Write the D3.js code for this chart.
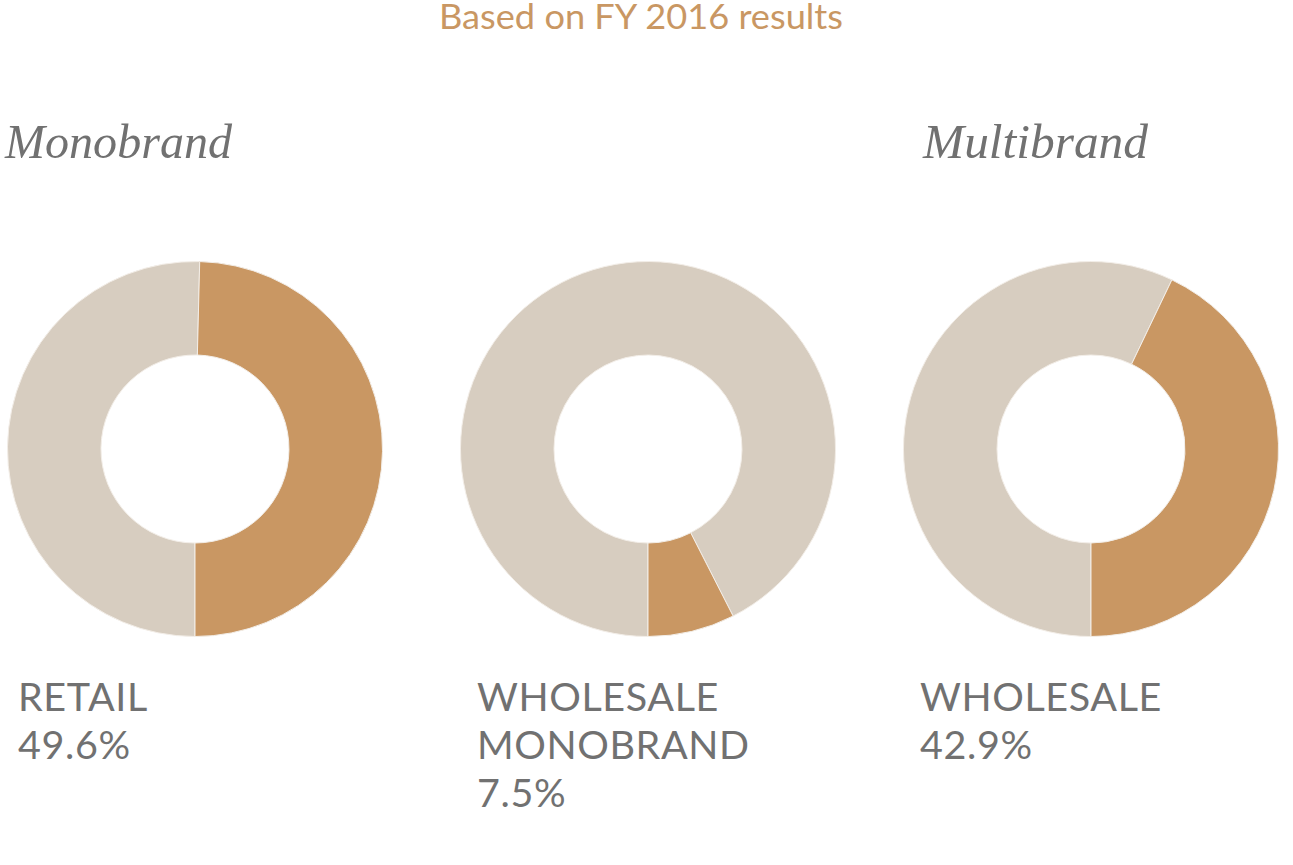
<!DOCTYPE html>
<html>
<head>
<meta charset="utf-8">
<script src="https://cdn.jsdelivr.net/npm/d3@7"></script>
<style>
  html, body { margin: 0; padding: 0; background: #fff; }
  svg { display: block; }
</style>
</head>
<body>
<svg id="chart" width="1293" height="865"></svg>
<script>
const title = "Based on FY 2016 results";
const groupTitles = ["Monobrand", "Multibrand"];
const categories = ["Retail", "Wholesale Monobrand", "Wholesale"];
const labelLines = [["RETAIL"], ["WHOLESALE", "MONOBRAND"], ["WHOLESALE"]];
const values = [49.6, 7.5, 42.9];
const valueLabels = ["49.6%", "7.5%", "42.9%"];

const W = 1293, H = 865;
const svg = d3.select("#chart");
const ORANGE = "#c99763", SAND = "#d7cdc0", GREY = "#717171";

const cx = d3.scaleOrdinal().domain(categories).range([195, 648, 1091]);
const labelX = d3.scaleOrdinal().domain(categories).range([18, 477, 920]);
const cy = 449, rOuter = 187.5, rInner = 94;

svg.append("text")
  .attr("x", 641).attr("y", 29)
  .attr("text-anchor", "middle")
  .attr("font-family", "Lato")
  .attr("font-size", 34)
  .attr("fill", ORANGE)
  .attr("textLength", 404)
  .attr("lengthAdjust", "spacingAndGlyphs")
  .text(title);

const gtPos = [{x: 5, w: 227}, {x: 923, w: 225}];
groupTitles.forEach((t, i) => {
  svg.append("text")
    .attr("x", gtPos[i].x).attr("y", 158)
    .attr("font-family", "Liberation Serif")
    .attr("font-style", "italic")
    .attr("font-size", 48)
    .attr("fill", GREY)
    .attr("textLength", gtPos[i].w)
    .attr("lengthAdjust", "spacingAndGlyphs")
    .text(t);
});

const pie = d3.pie().sort(null).value(d => d.v).startAngle(-Math.PI).endAngle(Math.PI);
const arc = d3.arc().innerRadius(rInner).outerRadius(rOuter);

categories.forEach((c, i) => {
  const g = svg.append("g").attr("transform", `translate(${cx(c)},${cy})`);
  const data = [{k: "rest", v: 100 - values[i]}, {k: "share", v: values[i]}];
  g.selectAll("path").data(pie(data)).join("path")
    .attr("d", arc)
    .attr("fill", d => d.data.k === "share" ? ORANGE : SAND)
    .attr("stroke", "#f3eee8")
    .attr("stroke-width", 1);

  const lines = labelLines[i].concat([valueLabels[i]]);
  const t = svg.append("text")
    .attr("font-family", "Lato")
    .attr("font-size", 39.5)
    .attr("fill", GREY)
    .attr("letter-spacing", 0.6);
  lines.forEach((l, j) => {
    t.append("tspan")
      .attr("x", labelX(c))
      .attr("y", 711 + j * 48)
      .text(l);
  });
});
</script>
</body>
</html>
